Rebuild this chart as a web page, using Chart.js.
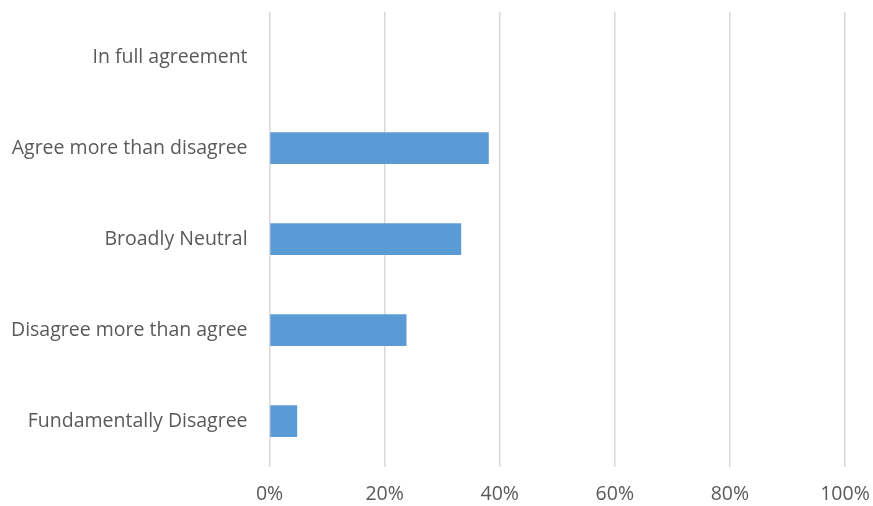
<!DOCTYPE html>
<html>
<head>
<meta charset="utf-8">
<script src="https://cdn.jsdelivr.net/npm/chart.js@4/dist/chart.umd.min.js"></script>
<style>
html,body{margin:0;padding:0;background:#fff;}
#wrap{width:873px;height:506px;position:relative;}
</style>
</head>
<body>
<div id="wrap"><canvas id="c" width="873" height="506"></canvas></div>
<script>
const categories = ["In full agreement","Agree more than disagree","Broadly Neutral","Disagree more than agree","Fundamentally Disagree"];
const values = [0, 38.1, 33.3, 23.8, 4.8];
const xTicks = [0, 20, 40, 60, 80, 100];

new Chart(document.getElementById('c'), {
  type: 'bar',
  data: {
    labels: categories,
    datasets: [{
      data: values,
      backgroundColor: '#5B9BD5',
      borderWidth: 0,
      barPercentage: 0.35,
      categoryPercentage: 1.0
    }]
  },
  options: {
    indexAxis: 'y',
    responsive: false,
    animation: false,
    layout: { padding: { top: 11, right: 28, left: 11, bottom: 0 } },
    plugins: { legend: { display: false }, tooltip: { enabled: false } },
    scales: {
      x: {
        min: 0, max: 100,
        afterBuildTicks: (axis) => { axis.ticks = xTicks.map(v => ({ value: v })); },
        ticks: {
          callback: (v) => v + '%',
          color: '#595959',
          font: { family: 'Open Sans', size: 19.5 },
          padding: 0,
          maxRotation: 0
        },
        grid: { color: '#d9d9d9', lineWidth: 1.5, drawTicks: true, tickLength: 16, tickColor: 'rgba(0,0,0,0)' },
        border: { display: false }
      },
      y: {
        ticks: {
          color: '#595959',
          font: { family: 'Open Sans', size: 19.5 },
          padding: 0
        },
        grid: { display: true, drawOnChartArea: false, drawTicks: true, tickLength: 22, color: 'rgba(0,0,0,0)', tickColor: 'rgba(0,0,0,0)' },
        border: { display: false }
      }
    }
  }
});
</script>
</body>
</html>
